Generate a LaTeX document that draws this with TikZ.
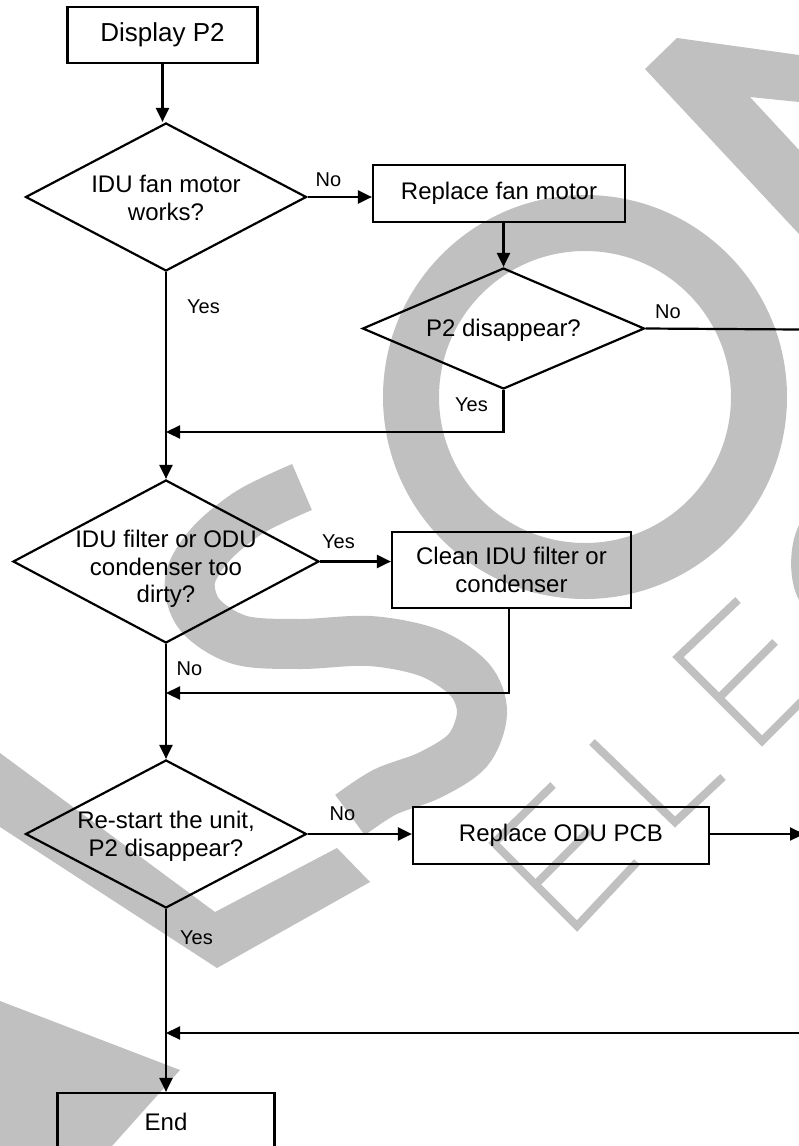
\documentclass[tikz,border=0pt]{standalone}
\usepackage{fontspec}
\setmainfont{Liberation Sans}
\usetikzlibrary{shapes.geometric,arrows.meta}
\definecolor{wm}{RGB}{192,192,192}
\begin{document}
\begin{tikzpicture}[x=1pt,y=-1pt,
  box/.style={draw, line width=2.2pt, inner sep=0pt, font=\fontsize{24}{27.5}\selectfont, align=center},
  dia/.style={draw, diamond, line width=2.2pt, inner sep=0pt},
  txt/.style={font=\fontsize{24}{27.5}\selectfont, align=center, inner sep=0pt},
  lbl/.style={font=\fontsize{20}{24}\selectfont, inner sep=0pt},
  conn/.style={line width=2.2pt},
  arr/.style={line width=2.2pt, -{Triangle[length=14pt,width=13pt]}},
  wmthick/.style={wm, line width=50pt, line cap=butt},
  wmthin/.style={wm, line width=8pt, line cap=butt, line join=miter}
]
\useasboundingbox (0,0) rectangle (799,1146);
\fill[white] (0,0) rectangle (799,1146);
% ---- watermark ----
\draw[wm, line width=56pt] (585,397) circle[radius=174pt];
\fill[wm] (645,69) -- (677,38) -- (799,55) -- (799,102) -- (750,97) -- (799,150) -- (799,234) -- cycle;
\draw[wmthick] plot[smooth, tension=0.55] coordinates {(302,487) (250,512) (210,545) (190,580) (200,615) (240,640) (300,644) (370,641) (430,653) (470,680) (482,713) (468,750) (430,775) (385,792) (350,815)};
\fill[wm] (0,753) -- (215,912) -- (337,848) -- (370,882) -- (217,968) -- (0,827) -- cycle;
\fill[wm] (0,1001) -- (180,1070) -- (112,1146) -- (0,1146) -- cycle;
\fill[wm] (799,525) .. controls (789,545) and (788,580) .. (799,600) -- cycle;
\draw[wmthin] (738,600) -- (678,657) -- (762,741) -- (812,691);
\draw[wmthin] (775,642) -- (720,697);
\draw[wmthin] (592,742) -- (675,822) -- (723,777);
\draw[wmthin] (553,785) -- (494,843) -- (577,926) -- (637,862);
\draw[wmthin] (590,830) -- (535,885);
% ---- nodes ----
\node[box, minimum width=190, minimum height=56, font=\fontsize{26}{30}\selectfont] (disp) at (162.5,35) {Display P2};
\node[dia, minimum width=281, minimum height=148] (d1) at (166,197) {};
\node[txt] (d1t) at (166,198) {IDU fan motor\\works?};
\node[box, minimum width=252, minimum height=57] (rfm) at (499,193.5) {Replace fan motor};
\node[dia, minimum width=282, minimum height=121] (d2) at (503.5,328.5) {};
\node[txt] (d2t) at (503.5,330) {P2 disappear?};
\node[dia, minimum width=306, minimum height=163] (d3) at (166,561.5) {};
\node[txt] (d3t) at (166,569) {IDU filter or ODU\\condenser too\\dirty?};
\node[box, minimum width=239, minimum height=76] (clean) at (511.5,570) {Clean IDU filter or\\condenser};
\node[dia, minimum width=281, minimum height=148] (d4) at (166,834) {};
\node[txt] (d4t) at (166,836.5) {Re-start the unit,\\P2 disappear?};
\node[box, minimum width=296, minimum height=57] (pcb) at (561,835.5) {Replace ODU PCB};
\node[box, minimum width=217, minimum height=57] (end) at (166,1121.5) {End};
% ---- labels ----
\node[lbl] (l1) at (328.5,180) {No};
\node[lbl] (l2) at (203.5,307) {Yes};
\node[lbl] (l3) at (668,312) {No};
\node[lbl] (l4) at (471.5,405) {Yes};
\node[lbl] (l5) at (338.5,541.5) {Yes};
\node[lbl] (l6) at (189.5,668.5) {No};
\node[lbl] (l7) at (342.5,813.5) {No};
\node[lbl] (l8) at (196.5,937.5) {Yes};
% ---- free ends ----
\coordinate (r1) at (799,329.5);
\coordinate (r2) at (804,834);
\coordinate (r3) at (799,1033);
\coordinate (j1) at (503.5,432);
\coordinate (j2) at (509,693);
% ---- connectors ----
\draw[arr] (disp.south) -- (disp.south |- d1.north);
\draw[arr] (d1.east) -- (d1.east -| rfm.west);
\draw[arr] (rfm.south -| d2.north) -- (d2.north);
\draw[conn] (d2.east) -- (r1);
\draw[arr] (d2.south) -- (j1) -- (j1 -| d1.south);
\draw[arr] (d1.south) -- (d3.north);
\draw[arr] (d3.east) -- (d3.east -| clean.west);
\draw[arr] (clean.south -| j2) -- (j2) -- (j2 -| d3.south);
\draw[arr] (d3.south) -- (d4.north);
\draw[arr] (d4.east) -- (d4.east -| pcb.west);
\draw[arr] (pcb.east |- d4.east) -- (r2);
\draw[arr] (r3) -- (r3 -| d4.south);
\draw[arr] (d4.south) -- (end.north);
\end{tikzpicture}
\end{document}
